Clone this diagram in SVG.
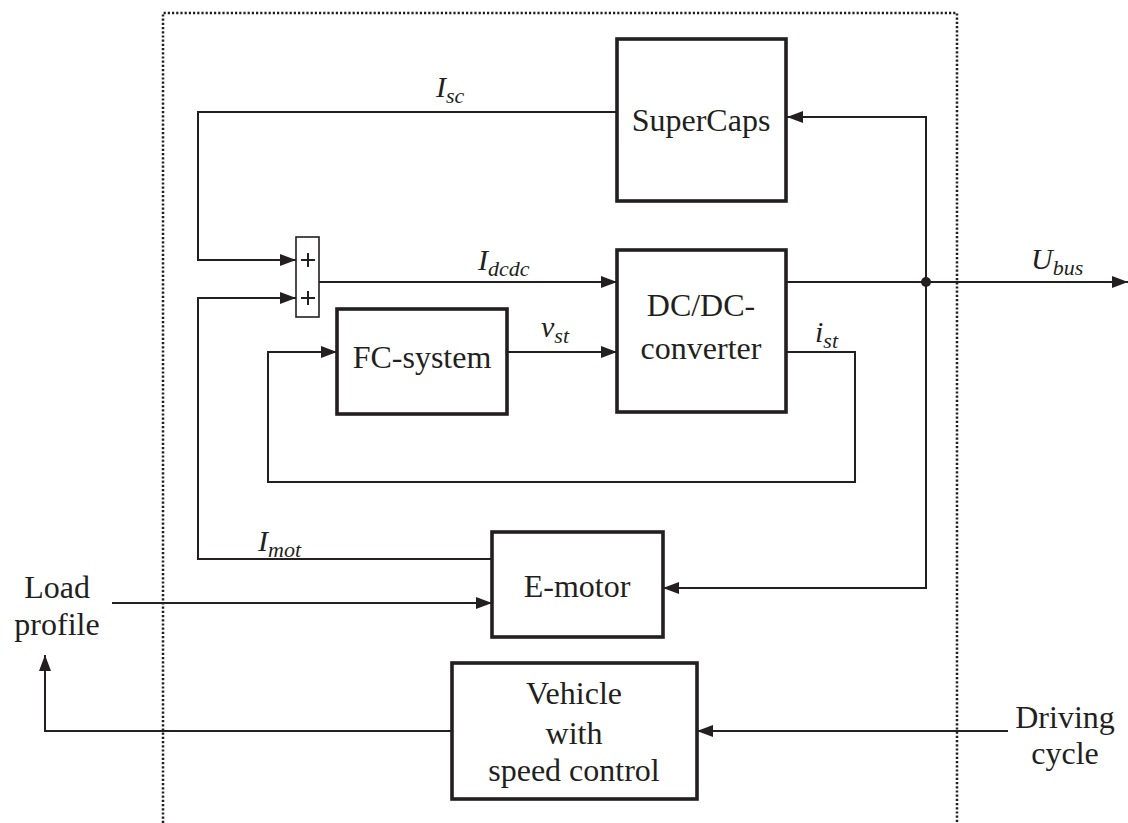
<svg xmlns="http://www.w3.org/2000/svg" width="1128" height="823" viewBox="0 0 1128 823" font-family="Liberation Serif, DejaVu Serif, serif">
<defs>
<marker id="arr" markerUnits="userSpaceOnUse" markerWidth="18" markerHeight="14" refX="16" refY="7" orient="auto">
<path d="M0,1 L16,7 L0,13 z" fill="#231f20"/>
</marker>
<style>
.box{fill:#fff;stroke:#231f20;stroke-width:3.6}
.sum{fill:#fff;stroke:#231f20;stroke-width:1.6}
.c{fill:none;stroke:#231f20;stroke-width:2}
.ca{fill:none;stroke:#231f20;stroke-width:2;marker-end:url(#arr)}
.dot{fill:none;stroke:#231f20;stroke-width:2.5;stroke-dasharray:2.2 2}
.t{font-size:32px;fill:#231f20;text-anchor:middle}
.m{font-size:30px;font-style:italic;fill:#231f20}
.s{font-size:22px}
</style>
</defs>
<rect width="1128" height="823" fill="#fff"/>
<g id="border">
<path class="dot" d="M163,823 V13 H957 V823"/>
</g>
<g id="connectors">
<path class="ca" d="M617,112 H198 V260 H296"/>
<path class="ca" d="M492,559 H198 V298 H296"/>
<path class="ca" d="M319,282 H617"/>
<path class="ca" d="M507,352 H617"/>
<path class="ca" d="M786,352 H855 V482 H268 V352 H337"/>
<path class="ca" d="M786,282 H1128"/>
<path class="ca" d="M926,282 V117 H787"/>
<path class="ca" d="M926,282 V588 H663"/>
<path class="ca" d="M112,603 H492"/>
<path class="ca" d="M1008,731 H697"/>
<path class="ca" d="M452,731 H45 V655"/>
<circle cx="926" cy="282" r="5" fill="#231f20"/>
</g>
<g id="sum">
<rect class="sum" x="296" y="237" width="23" height="80"/>
<path class="c" d="M301,260 H315 M308,253 V267 M301,298 H315 M308,291 V305" stroke-width="1.6"/>
</g>
<g id="supercaps">
<rect class="box" x="617" y="39" width="169" height="162"/>
<text class="t" x="701" y="131">SuperCaps</text>
</g>
<g id="dcdc">
<rect class="box" x="617" y="250" width="169" height="162"/>
<text class="t" x="701" y="316">DC/DC-</text>
<text class="t" x="701" y="359">converter</text>
</g>
<g id="fc">
<rect class="box" x="337" y="309" width="170" height="105"/>
<text class="t" x="422" y="368">FC-system</text>
</g>
<g id="emotor">
<rect class="box" x="492" y="532" width="171" height="105"/>
<text class="t" x="577" y="597">E-motor</text>
</g>
<g id="vehicle">
<rect class="box" x="452" y="663" width="245" height="136"/>
<text class="t" x="574" y="704">Vehicle</text>
<text class="t" x="574" y="744">with</text>
<text class="t" x="574" y="781">speed control</text>
</g>
<g id="load">
<text class="t" x="57" y="598">Load</text>
<text class="t" x="57" y="635">profile</text>
</g>
<g id="driving">
<text class="t" x="1065" y="728">Driving</text>
<text class="t" x="1065" y="764">cycle</text>
</g>
<g id="labels">
<text class="m" x="436" y="97">I<tspan class="s" dy="6">sc</tspan></text>
<text class="m" x="478" y="270">I<tspan class="s" dy="6">dcdc</tspan></text>
<text class="m" x="541" y="337">v<tspan class="s" dy="6">st</tspan></text>
<text class="m" x="815" y="342">i<tspan class="s" dy="6">st</tspan></text>
<text class="m" x="1031" y="269">U<tspan class="s" dy="6">bus</tspan></text>
<text class="m" x="258" y="551">I<tspan class="s" dy="6">mot</tspan></text>
</g>
</svg>
